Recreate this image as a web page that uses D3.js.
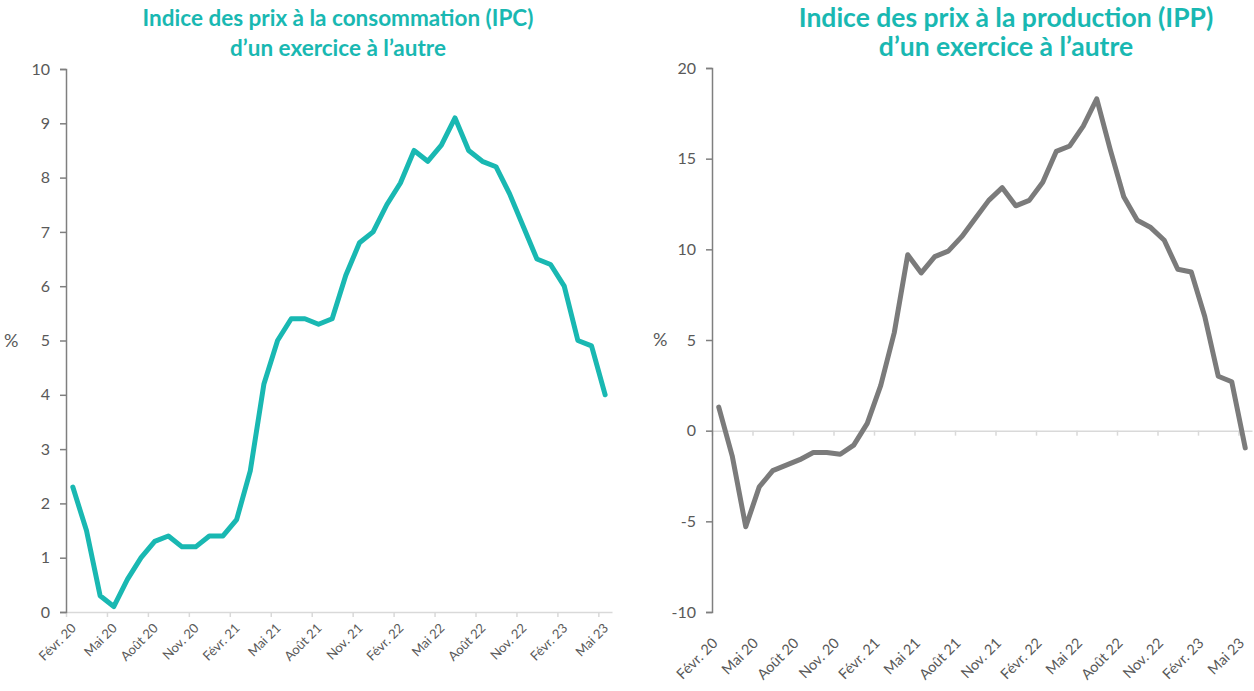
<!DOCTYPE html>
<html>
<head>
<meta charset="utf-8">
<script src="https://cdn.jsdelivr.net/npm/d3@7"></script>
<style>
  body { margin: 0; background: #fff; }
  svg { display: block; font-family: Lato, "Open Sans", sans-serif; }
</style>
</head>
<body>
<div id="chart"></div>
<script>
// months, Feb 2020 -> May 2023
var months = [
  "Févr. 20", "Mars 20", "Avr. 20", "Mai 20", "Juin 20", "Juil. 20", "Août 20", "Sept. 20", "Oct. 20", "Nov. 20", "Déc. 20",
  "Janv. 21", "Févr. 21", "Mars 21", "Avr. 21", "Mai 21", "Juin 21", "Juil. 21", "Août 21", "Sept. 21", "Oct. 21", "Nov. 21", "Déc. 21",
  "Janv. 22", "Févr. 22", "Mars 22", "Avr. 22", "Mai 22", "Juin 22", "Juil. 22", "Août 22", "Sept. 22", "Oct. 22", "Nov. 22", "Déc. 22",
  "Janv. 23", "Févr. 23", "Mars 23", "Avr. 23", "Mai 23"
];

// IPC d'un exercice à l'autre (%)
var ipcValues = [
  2.3, 1.5, 0.3, 0.1, 0.6, 1.0, 1.3, 1.4, 1.2, 1.2, 1.4,
  1.4, 1.7, 2.6, 4.2, 5.0, 5.4, 5.4, 5.3, 5.4, 6.2, 6.8, 7.0,
  7.5, 7.9, 8.5, 8.3, 8.6, 9.1, 8.5, 8.3, 8.2, 7.7, 7.1, 6.5,
  6.4, 6.0, 5.0, 4.9, 4.0
];

// IPP d'un exercice à l'autre (%)
var ippValues = [
  1.3, -1.4, -5.3, -3.1, -2.2, -1.9, -1.6, -1.2, -1.2, -1.3, -0.8,
  0.4, 2.5, 5.4, 9.7, 8.7, 9.6, 9.9, 10.7, 11.7, 12.7, 13.4, 12.4,
  12.7, 13.7, 15.4, 15.7, 16.8, 18.3, 15.5, 12.9, 11.6, 11.2, 10.5, 8.9,
  8.75, 6.3, 3.0, 2.7, -0.95
];

var ipcTicks = [0, 1, 2, 3, 4, 5, 6, 7, 8, 9, 10];
var ippTicks = [-10, -5, 0, 5, 10, 15, 20];

var ipcTitle = ["Indice des prix à la consommation (IPC)", "d\u2019un exercice à l\u2019autre"];
var ippTitle = ["Indice des prix à la production (IPP)", "d\u2019un exercice à l\u2019autre"];

var width = 1254, height = 691;
var teal = "#19b8b2", lineGray = "#7b7b7b", textGray = "#595959", axisGray = "#7f7f7f", gridGray = "#d9d9d9";

var svg = d3.select("#chart").append("svg")
  .attr("width", width)
  .attr("height", height);

var drawPanel = function(opt) {
  var g = svg.append("g");

  var x = d3.scaleBand().domain(months).range([opt.x0, opt.x1]).padding(0);
  var xi = d3.scaleLinear().domain([0, months.length]).range([opt.x0, opt.x1]);
  var y = d3.scaleLinear().domain(opt.domain).range([opt.yBottom, opt.yTop]);

  // title
  g.append("text")
    .attr("x", opt.titleX)
    .attr("y", opt.titleY)
    .attr("text-anchor", "middle")
    .attr("fill", teal)
    .attr("font-weight", 700)
    .attr("font-size", opt.titleSize)
    .selectAll("tspan")
    .data(opt.title)
    .enter()
    .append("tspan")
    .attr("x", opt.titleX)
    .attr("dy", function(d, i) { return i === 0 ? 0 : opt.titleGap; })
    .text(function(d) { return d; });

  // x axis line + ticks at every 3rd boundary
  var zeroY = y(Math.max(opt.domain[0], 0));
  var tickIdx = d3.range(0, months.length, 3);
  var xAxis = d3.axisBottom(xi)
    .tickValues(tickIdx)
    .tickSize(5)
    .tickSizeOuter(0)
    .tickFormat("");
  var xg = g.append("g")
    .attr("transform", "translate(0," + zeroY + ")")
    .call(xAxis);
  xg.selectAll("path, line").attr("stroke", gridGray).attr("stroke-width", 1.5);

  // x labels (low position)
  g.append("g")
    .selectAll("text")
    .data(tickIdx)
    .enter()
    .append("text")
    .attr("transform", function(i) {
      return "translate(" + (x(months[i]) + x.bandwidth() / 2 + opt.labelDx) + "," + (opt.yBottom + opt.labelDy) + ") rotate(-45)";
    })
    .attr("text-anchor", "end")
    .attr("font-size", opt.labelSize)
    .attr("fill", textGray)
    .text(function(i) { return months[i]; });

  // y axis
  var yAxis = d3.axisLeft(y)
    .tickValues(opt.ticks)
    .tickSize(6)
    .tickSizeOuter(6)
    .tickPadding(10)
    .tickFormat(function(d) { return String(d); });
  var yg = g.append("g")
    .attr("transform", "translate(" + opt.x0 + ",0)")
    .call(yAxis);
  yg.select(".domain").attr("stroke", axisGray).attr("stroke-width", 1.5);
  yg.selectAll(".tick line").attr("stroke", axisGray).attr("stroke-width", 1.5);
  yg.selectAll(".tick text")
    .attr("font-size", 16)
    .attr("font-family", "Lato, sans-serif")
    .attr("fill", textGray);

  // % label
  g.append("text")
    .attr("x", opt.pctX)
    .attr("y", y(5) + 6)
    .attr("font-size", 18)
    .attr("fill", textGray)
    .text("%");

  // line
  var line = d3.line()
    .x(function(d, i) { return x(months[i]) + x.bandwidth() / 2; })
    .y(function(d) { return y(d); });

  g.append("path")
    .datum(opt.values)
    .attr("fill", "none")
    .attr("stroke", opt.color)
    .attr("stroke-width", 5)
    .attr("stroke-linejoin", "round")
    .attr("stroke-linecap", "round")
    .attr("d", line);
};

drawPanel({
  x0: 66, x1: 612, yTop: 69, yBottom: 612,
  domain: [0, 10], ticks: ipcTicks,
  values: ipcValues, color: teal,
  title: ipcTitle, titleX: 338, titleY: 26, titleSize: 22.5, titleGap: 30,
  labelSize: 13, labelDx: 4, labelDy: 17,
  pctX: 4
});

drawPanel({
  x0: 712, x1: 1252, yTop: 68, yBottom: 612,
  domain: [-10, 20], ticks: ippTicks,
  values: ippValues, color: lineGray,
  title: ippTitle, titleX: 1006, titleY: 27, titleSize: 26.5, titleGap: 29,
  labelSize: 14.5, labelDx: 0, labelDy: 32,
  pctX: 653
});
</script>
</body>
</html>
